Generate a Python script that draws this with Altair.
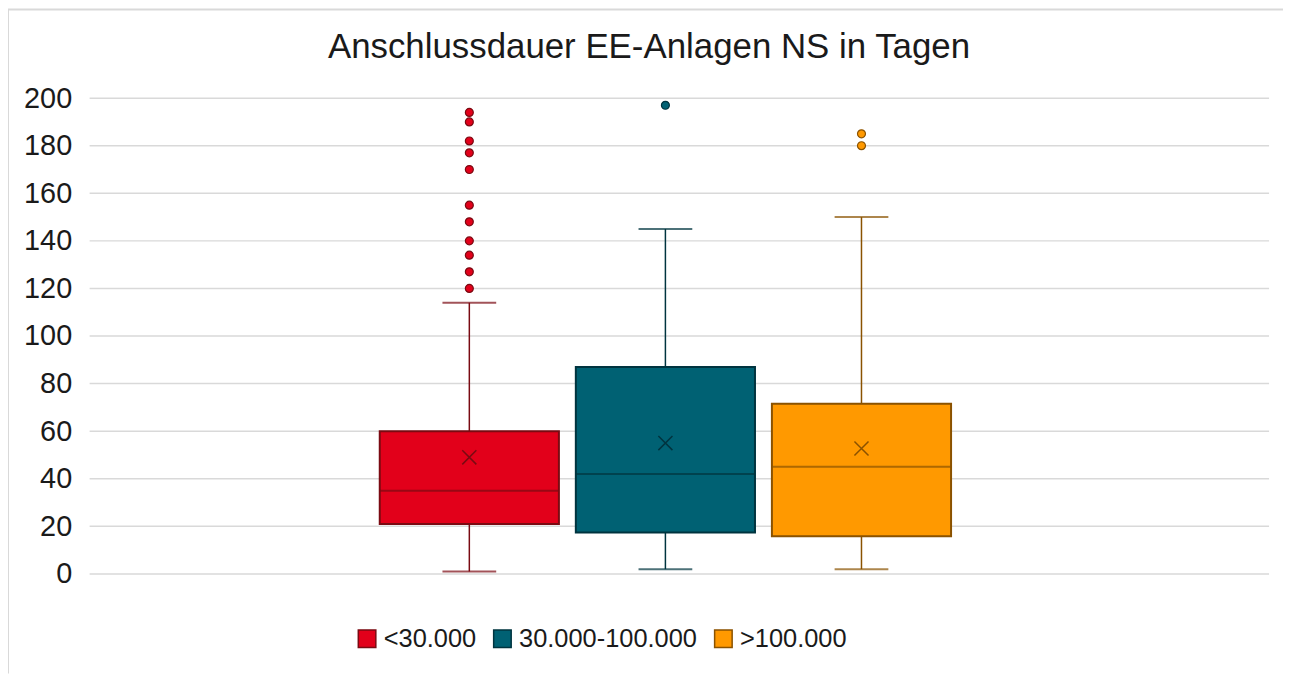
import altair as alt
import pandas as pd

# ---- data ----
series = ["<30.000", "30.000-100.000", ">100.000"]
q1 = [21, 17.4, 15.8]
median = [35, 42, 45]
q3 = [60, 87, 71.5]
mean = [49, 55, 52.7]
whisker_low = [1, 2, 2]
whisker_high = [114, 145, 150]
outliers = [
    [194, 190, 182, 177, 170, 155, 148, 140, 134, 127, 120],
    [197],
    [185, 180],
]
y_ticks = [0, 20, 40, 60, 80, 100, 120, 140, 160, 180, 200]
title_text = "Anschlussdauer EE-Anlagen NS in Tagen"

fill_colors = ["#E2001A", "#006173", "#FF9900"]
stroke_colors = ["#7A0A12", "#00343F", "#8A5200"]

FONT = "Liberation Sans"
W, H = 1185, 478
PAD_L, PAD_T, PAD_R, PAD_B = 82, 89, 14, 100
STEP = 197
BAND = 180
P_INNER = 1 - BAND / STEP
BAND_START = 381.5 - BAND / 2

box_df = pd.DataFrame({
    "series": series, "q1": q1, "median": median, "q3": q3,
    "mean": mean, "lo": whisker_low, "hi": whisker_high,
})
out_df = pd.DataFrame(
    [{"series": s, "value": v} for s, vals in zip(series, outliers) for v in vals]
)
grid_df = pd.DataFrame({"tick": y_ticks})

x_scale = alt.Scale(domain=series, paddingInner=P_INNER, paddingOuter=0,
                    range=[BAND_START, BAND_START + STEP * (3 - P_INNER)])
y_scale = alt.Scale(domain=[0, 200], nice=False)
fill_scale = alt.Scale(domain=series, range=fill_colors)
stroke_scale = alt.Scale(domain=series, range=stroke_colors)

X = alt.X("series:N", scale=x_scale, axis=None, sort=series)

legend = alt.Legend(
    title=None, orient="none", direction="horizontal",
    legendX=266, legendY=530,
    symbolType="square", symbolSize=310, symbolStrokeWidth=1.5,
    labelFont=FONT, labelFontSize=25.5, labelColor="#1a1a1a", labelLimit=0,
    labelOffset=4, columnPadding=13,
)

base_y_axis = alt.Axis(
    values=y_ticks, grid=False,
    domain=False, ticks=False, labelFont=FONT, labelFontSize=29,
    labelColor="#1a1a1a", labelPadding=18, title=None,
)

grid = alt.Chart(grid_df).mark_rule(color="#d9d9d9", strokeWidth=1.5).encode(
    y=alt.Y("tick:Q", scale=y_scale, axis=base_y_axis),
    x=alt.value(0), x2=alt.value(W),
)

boxes = alt.Chart(box_df).mark_bar(strokeWidth=2).encode(
    x=X,
    y=alt.Y("q1:Q", scale=y_scale),
    y2="q3:Q",
    fill=alt.Fill("series:N", scale=fill_scale, legend=legend, sort=series),
    stroke=alt.Stroke("series:N", scale=stroke_scale, legend=legend, sort=series),
)

dark = alt.Color("series:N", scale=stroke_scale, legend=None)

upper_whisker = alt.Chart(box_df).mark_rule(strokeWidth=1.5).encode(
    x=X, y=alt.Y("q3:Q", scale=y_scale), y2="hi:Q", color=dark,
)
lower_whisker = alt.Chart(box_df).mark_rule(strokeWidth=1.5).encode(
    x=X, y=alt.Y("lo:Q", scale=y_scale), y2="q1:Q", color=dark,
)
cap_hi = alt.Chart(box_df).mark_tick(size=54, thickness=2).encode(
    x=X, y=alt.Y("hi:Q", scale=y_scale), color=dark,
)
cap_lo = alt.Chart(box_df).mark_tick(size=54, thickness=2).encode(
    x=X, y=alt.Y("lo:Q", scale=y_scale), color=dark,
)
median_line = alt.Chart(box_df).mark_tick(size=BAND, thickness=2).encode(
    x=X, y=alt.Y("median:Q", scale=y_scale), color=dark,
)
mean_mark = alt.Chart(box_df).mark_point(
    shape="M-1,-1L1,1M1,-1L-1,1", filled=False, size=200, strokeWidth=1.5, opacity=1,
).encode(
    x=X, y=alt.Y("mean:Q", scale=y_scale), color=dark,
)
outlier_pts = alt.Chart(out_df).mark_circle(size=64, strokeWidth=1.2, opacity=1).encode(
    x=X,
    y=alt.Y("value:Q", scale=y_scale),
    fill=alt.Fill("series:N", scale=fill_scale, legend=None),
    stroke=alt.Stroke("series:N", scale=stroke_scale, legend=None),
)

frame_data = alt.Data(values=[{"k": 1}])
border_top = alt.Chart(frame_data).mark_rule(color="#d9d9d9", strokeWidth=2, clip=False).encode(
    x=alt.value(-PAD_L), x2=alt.value(W + PAD_R), y=alt.value(-PAD_T),
)
border_left = alt.Chart(frame_data).mark_rule(color="#d9d9d9", strokeWidth=2, clip=False).encode(
    x=alt.value(-PAD_L), y=alt.value(-PAD_T), y2=alt.value(H + PAD_B),
)
title_mark = alt.Chart(frame_data).mark_text(
    font=FONT, fontSize=35, color="#1a1a1a", align="center", baseline="alphabetic",
).encode(
    x=alt.value(562), y=alt.value(-40), text=alt.value(title_text),
)

chart = alt.layer(
    grid, boxes, upper_whisker, lower_whisker, cap_hi, cap_lo, median_line,
    mean_mark, outlier_pts, border_top, border_left, title_mark,
).properties(
    width=W, height=H, background="white",
    autosize=alt.AutoSizeParams(type="none"),
    padding={"left": PAD_L, "top": PAD_T, "right": PAD_R, "bottom": PAD_B},
).configure_view(stroke="transparent", strokeWidth=0)

chart.save("out.html", embed_options={"renderer": "svg", "actions": False})
